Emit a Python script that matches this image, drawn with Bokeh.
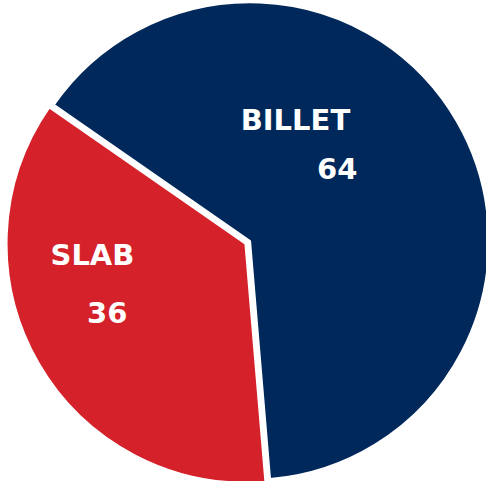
import math
from bokeh.plotting import figure
from bokeh.models import ColumnDataSource, Range1d
from bokeh.core.properties import value
from bokeh.embed import file_html
from bokeh.resources import INLINE

# ---- data ----
categories = ["BILLET", "SLAB"]
values = [64, 36]
colors = ["#00285a", "#d5222a"]

# ---- layout / style ----
start_deg = -85.2          # where the first slice begins (anticlockwise)
explode = [0.0, 0.0226]    # radial offset of each slice (in radii)
name_pos = [(0.190, 0.505), (-0.660, -0.058)]
value_pos = [(0.365, 0.305), (-0.598, -0.298)]

total = float(sum(values))
starts, ends, xs, ys = [], [], [], []
a = math.radians(start_deg)
for v, ex in zip(values, explode):
    sweep = v / total * 2 * math.pi
    mid = a + sweep / 2
    starts.append(a)
    ends.append(a + sweep)
    xs.append(ex * math.cos(mid))
    ys.append(ex * math.sin(mid))
    a += sweep

src = ColumnDataSource(dict(x=xs, y=ys, start=starts, end=ends, color=colors))

p = figure(width=486, height=481, output_backend="svg", toolbar_location=None,
           x_range=Range1d(-1.045, 0.990), y_range=Range1d(-1.007, 1.007),
           min_border=0, min_border_left=0, min_border_right=0,
           min_border_top=0, min_border_bottom=0)
p.axis.visible = False
p.grid.visible = False
p.outline_line_color = None
p.background_fill_color = "white"
p.border_fill_color = "white"

p.wedge(x="x", y="y", radius=1.0, start_angle="start", end_angle="end",
        fill_color="color", line_color="white", line_width=2, source=src)

lab = ColumnDataSource(dict(
    x=[q[0] for q in name_pos] + [q[0] for q in value_pos],
    y=[q[1] for q in name_pos] + [q[1] for q in value_pos],
    t=list(categories) + [str(v) for v in values],
))
p.text(x="x", y="y", text="t", source=lab, text_color="white",
       text_font=value("DejaVu Sans"), text_font_style="bold",
       text_font_size="29px", text_align="center", text_baseline="middle")

open("out.html", "w").write(file_html(p, INLINE))
